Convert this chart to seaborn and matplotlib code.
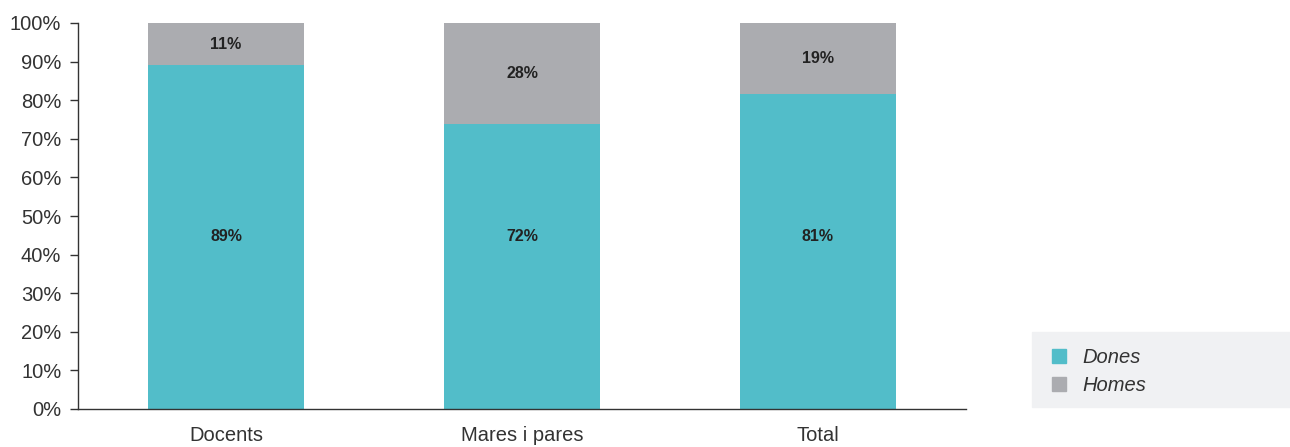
import seaborn as sns
import matplotlib.pyplot as plt
import pandas as pd
from matplotlib.patches import Rectangle, Patch

categories = ['Docents', 'Mares i pares', 'Total']
dones = [89.1, 73.8, 81.6]
homes = [10.9, 26.2, 18.4]
dones_labels = ['89%', '72%', '81%']
homes_labels = ['11%', '28%', '19%']

teal = '#52BDC9'
grey = '#ABACB0'
text_col = '#333333'

df = pd.DataFrame({'cat': categories, 'Dones': dones, 'Homes': homes})
df['total'] = df['Dones'] + df['Homes']

sns.set_style('white')
plt.rcParams['font.family'] = ['Liberation Sans', 'DejaVu Sans']

fig = plt.figure(figsize=(12.9, 4.47), dpi=100)
ax = fig.add_axes([78 / 1290, 1 - 409 / 447, 888 / 1290, 386 / 447])

# stacked bars: grey total behind, teal on top
sns.barplot(data=df, x='cat', y='total', color=grey, width=0.524, saturation=1,
            linewidth=0, ax=ax)
sns.barplot(data=df, x='cat', y='Dones', color=teal, width=0.524, saturation=1,
            linewidth=0, ax=ax)

for i in range(len(categories)):
    ax.text(i, 44.8, dones_labels[i], ha='center', va='center',
            fontsize=11.5, fontweight='bold', color='#222222')
    ax.text(i, dones[i] + homes[i] / 2, homes_labels[i], ha='center', va='center',
            fontsize=11.5, fontweight='bold', color='#222222')

ax.set_xlim(-0.5, 2.5)
ax.set_ylim(0, 100)
ax.set_yticks(range(0, 101, 10))
ax.set_yticklabels([f'{v}%' for v in range(0, 101, 10)])
ax.set_xticks([-0.5, 0.5, 1.5, 2.5], minor=True)
ax.tick_params(axis='x', which='major', length=0, pad=12, labelsize=14.5, labelcolor=text_col)
ax.tick_params(axis='x', which='minor', length=6, width=1, color='#333333', direction='out')
ax.tick_params(axis='y', length=6, width=1, color='#333333', direction='out', pad=6,
               labelsize=14.5, labelcolor=text_col, left=True)
ax.set_xlabel('')
ax.set_ylabel('')
sns.despine(ax=ax)
for s in ['left', 'bottom']:
    ax.spines[s].set_color('#333333')
    ax.spines[s].set_linewidth(1)

# legend box
fig.patches.append(Rectangle((1032 / 1290, 1 - 407 / 447), 258 / 1290, 75 / 447,
                             transform=fig.transFigure, color='#F0F1F3', zorder=0))
handles = [Patch(color=teal, label='Dones'), Patch(color=grey, label='Homes')]
leg = fig.legend(handles=handles, loc='upper left', bbox_to_anchor=(1052 / 1290, 1 - 348 / 447),
                 frameon=False, borderpad=0, borderaxespad=0,
                 handlelength=0.7, handleheight=0.7, handletextpad=0.8,
                 labelspacing=0.45, prop={'size': 14.5, 'style': 'italic'})
for t in leg.get_texts():
    t.set_color(text_col)

fig.savefig('out.png', dpi=100)
